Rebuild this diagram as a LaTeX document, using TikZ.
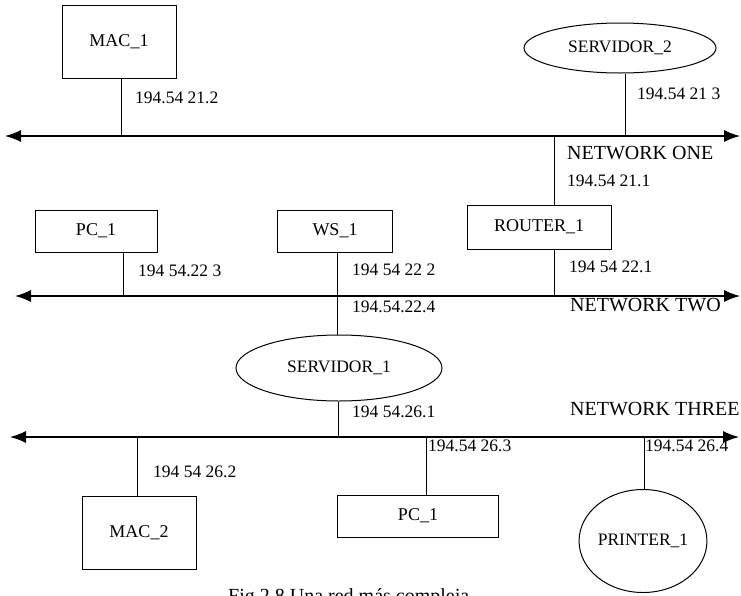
\documentclass[tikz,border=0pt]{standalone}
\usepackage{fontspec}
\setmainfont{Liberation Serif}
\usetikzlibrary{positioning,shapes.geometric,arrows.meta}
\tikzset{
  dev/.style={rectangle,draw,line width=1pt,align=center,inner sep=0pt,
    font=\fontsize{18}{20}\selectfont},
  srv/.style={ellipse,draw,line width=1pt,inner sep=0pt,
    font=\fontsize{17.5}{20}\selectfont},
  bus/.style={{Latex[length=16pt,width=12pt]}-{Latex[length=16pt,width=12pt]},line width=1.2pt},
  tap/.style={line width=0.9pt},
  ip/.style={anchor=west,inner sep=0pt,font=\fontsize{17.5}{20}\selectfont},
  netname/.style={anchor=west,inner sep=0pt,font=\fontsize{20}{22}\selectfont},
}

\begin{document}
\begin{tikzpicture}[x=1pt,y=-1pt]
  \useasboundingbox (0,0) rectangle (741,595);
  \clip (0,0) rectangle (741,595);
  % networks
  \coordinate (n1l) at (5,136);   \coordinate (n1r) at (740,136);
  \coordinate (n2l) at (15,296);  \coordinate (n2r) at (740,296);
  \coordinate (n3l) at (10,437);  \coordinate (n3r) at (739,437);
  \draw[bus] (n1l) -- (n1r);
  \draw[bus] (n2l) -- (n2r);
  \draw[bus] (n3l) -- (n3r);
  % hosts
  \node[dev,minimum width=114pt,minimum height=73pt] (mac1) at (119,42) {MAC\_1};
  \node[srv,minimum width=192pt,minimum height=50pt] (srv2) at (620,48) {SERVIDOR\_2};
  \node[dev,minimum width=144pt,minimum height=44pt] (rt1) at (539,227) {ROUTER\_1};
  \node[dev,minimum width=122pt,minimum height=42pt] (pc1) at (96,231) {PC\_1};
  \node[dev,minimum width=115pt,minimum height=42pt] (ws1) at (335,231) {WS\_1};
  \node[srv,minimum width=206pt,minimum height=66pt] (srv1) at (339,368) {SERVIDOR\_1};
  \node[dev,minimum width=114pt,minimum height=73pt] (mac2) at (139,533) {MAC\_2};
  \node[dev,minimum width=161pt,minimum height=42pt] (pc1b) at (418,516) {PC\_1};
  \node[srv,minimum width=108pt,minimum height=103pt] (prn1) at (643,541) {PRINTER\_1};
  % taps on the networks
  \coordinate (t1) at (121,136);  \coordinate (t2) at (625,136);
  \coordinate (t3) at (554,136);  \coordinate (t4) at (554,296);
  \coordinate (t5) at (123,296);  \coordinate (t6) at (337,296);
  \coordinate (t7) at (338,437);  \coordinate (t8) at (137,437);
  \coordinate (t9) at (426,437);  \coordinate (t10) at (644,437);
  \draw[tap] (t1) -- (t1 |- mac1.south);
  \draw[tap] (t2) -- (t2 |- srv2.south);
  \draw[tap] (t3) -- (t3 |- rt1.north);
  \draw[tap] (t4) -- (t4 |- rt1.south);
  \draw[tap] (t5) -- (t5 |- pc1.south);
  \draw[tap] (t6 |- ws1.south) -- (t6 |- srv1.north);
  \draw[tap] (t7) -- (t7 |- srv1.south);
  \draw[tap] (t8) -- (t8 |- mac2.north);
  \draw[tap] (t9) -- (t9 |- pc1b.north);
  \draw[tap] (t10) -- (t10 |- prn1.north);
  % addresses
  \node[ip] (a1) at (135,98) {194.54 21.2};
  \node[ip] (a2) at (637,94) {194.54 21 3};
  \node[netname] (l1) at (567,153) {NETWORK ONE};
  \node[ip] (a3) at (567,181) {194.54 21.1};
  \node[ip] (a4) at (138,271) {194 54.22 3};
  \node[ip] (a5) at (352,270) {194 54 22 2};
  \node[ip] (a6) at (569,267) {194 54 22.1};
  \node[ip] (a7) at (352,307) {194.54.22.4};
  \node[netname] (l2) at (570,305) {NETWORK TWO};
  \node[ip] (a8) at (352,412) {194 54.26.1};
  \node[netname] (l3) at (570,409) {NETWORK THREE};
  \node[ip] (a9) at (153,472) {194 54 26.2};
  \node[ip] (a10) at (428,446) {194.54 26.3};
  \node[ip] (a11) at (645,446) {194.54 26.4};
  \node[anchor=base west,inner sep=0pt,font=\fontsize{20}{22}\selectfont] (cap) at (228,602)
    {Fig 2.8 Una red más compleja};
\end{tikzpicture}
\end{document}
